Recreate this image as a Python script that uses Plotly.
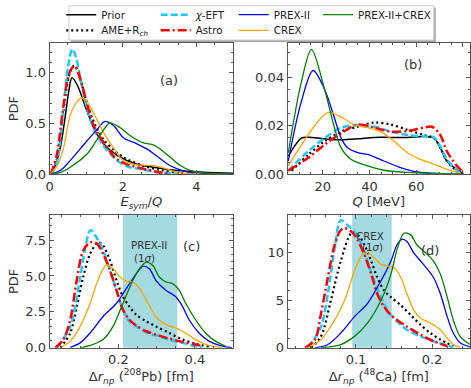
import plotly.graph_objects as go

W, H = 471, 388

# ---------------- series metadata ----------------
series_names = ["Prior", "AME+R<sub><i>ch</i></sub>", "<i>χ</i>-EFT", "Astro",
                "PREX-II", "CREX", "PREX-II+CREX"]
series_colors = ["black", "black", "#1ec8ff", "red", "blue", "orange", "green"]
series_dash = ["solid", "2px,3px", "7px,3px", "9px,3px,2px,3px", "solid", "solid", "solid"]
series_width = [1.5, 2.2, 2.5, 2.5, 1.3, 1.3, 1.3]

# ---------------- panel (a): E_sym/Q ----------------
a_prior_x = [0, 0.11, 0.29, 0.43, 0.52, 0.61, 0.75, 1.02, 1.25, 1.47, 1.83, 2.38, 2.83, 3.28, 3.74, 4.2, 5.0]
a_prior_y = [0.0, 0.05, 0.26, 0.58, 0.81, 0.95, 0.88, 0.62, 0.42, 0.30, 0.19, 0.10, 0.07, 0.045, 0.03, 0.02, 0.012]
a_ame_x = [0.05, 0.2, 0.35, 0.5, 0.6, 0.67, 0.8, 1.0, 1.25, 1.5, 1.75, 2.0, 2.5, 3.0, 3.5, 4.0]
a_ame_y = [0.0, 0.15, 0.55, 0.92, 1.04, 1.07, 0.98, 0.72, 0.48, 0.33, 0.24, 0.17, 0.09, 0.045, 0.015, 0.005]
a_eft_x = [0.05, 0.2, 0.35, 0.5, 0.62, 0.72, 0.85, 1.0, 1.2, 1.47, 1.83, 2.1, 2.5, 3.0, 3.5]
a_eft_y = [0.0, 0.12, 0.55, 1.05, 1.23, 1.15, 0.92, 0.68, 0.45, 0.28, 0.14, 0.08, 0.05, 0.02, 0.005]
a_astro_x = [0.03, 0.2, 0.35, 0.5, 0.6, 0.7, 0.85, 1.0, 1.2, 1.5, 1.8, 2.1, 2.5, 3.0, 3.3]
a_astro_y = [0.0, 0.2, 0.6, 0.95, 1.04, 1.06, 0.92, 0.72, 0.48, 0.30, 0.16, 0.10, 0.06, 0.02, 0.005]
a_prex_x = [0, 0.3, 0.56, 1.02, 1.29, 1.51, 1.74, 2.01, 2.38, 2.65, 2.92, 3.28, 3.56, 3.83, 4.2, 5.0]
a_prex_y = [0.0, 0.04, 0.135, 0.33, 0.44, 0.52, 0.48, 0.36, 0.30, 0.25, 0.18, 0.087, 0.045, 0.02, 0.01, 0.005]
a_crex_x = [0, 0.2, 0.38, 0.56, 0.74, 0.87, 1.0, 1.29, 1.47, 1.74, 2.01, 2.38, 2.83, 3.1, 3.46, 3.83, 4.2]
a_crex_y = [0.0, 0.08, 0.26, 0.58, 0.71, 0.75, 0.72, 0.54, 0.41, 0.26, 0.135, 0.093, 0.087, 0.064, 0.022, 0.006, 0.0]
a_both_x = [0, 0.3, 0.56, 1.02, 1.29, 1.56, 1.65, 1.92, 2.2, 2.56, 2.83, 3.01, 3.28, 3.56, 3.83, 4.2, 5.0]
a_both_y = [0.0, 0.02, 0.07, 0.2, 0.34, 0.48, 0.505, 0.46, 0.38, 0.31, 0.29, 0.25, 0.17, 0.087, 0.04, 0.015, 0.005]

# ---------------- panel (b): Q [MeV] ----------------
b_prior_x = [5.3, 10.9, 13.8, 20.8, 27.9, 35.0, 42.0, 49.1, 56.2, 63.2, 67.5, 70.3, 73.1, 77.4, 80.2]
b_prior_y = [0.0075, 0.0149, 0.0153, 0.0146, 0.0142, 0.0146, 0.0152, 0.0152, 0.0152, 0.0156, 0.0150, 0.0109, 0.0055, 0.0020, 0.0003]
b_ame_x = [6.7, 13.8, 20.8, 27.9, 35.0, 42.0, 49.1, 56.2, 63.2, 67.5, 70.3, 73.1, 77.4, 80.2]
b_ame_y = [0.0015, 0.0080, 0.0136, 0.0176, 0.0196, 0.0213, 0.0205, 0.0183, 0.0162, 0.0149, 0.0109, 0.0055, 0.0015, 0.0002]
b_eft_x = [5.3, 13.8, 20.8, 27.9, 35.0, 42.0, 49.1, 56.2, 63.2, 67.5, 70.3, 73.1, 77.4, 79.5]
b_eft_y = [0.0015, 0.0095, 0.0149, 0.0192, 0.0203, 0.0196, 0.0176, 0.0162, 0.0156, 0.0152, 0.0115, 0.0062, 0.0017, 0.0003]
b_astro_x = [5.3, 13.8, 20.8, 27.9, 35.0, 42.0, 49.1, 56.2, 63.2, 66.7, 70.3, 73.1, 77.4, 80.2]
b_astro_y = [0.0015, 0.0068, 0.0122, 0.0169, 0.0205, 0.0192, 0.0176, 0.0178, 0.0192, 0.0196, 0.0162, 0.0095, 0.0035, 0.0008]
b_prex_x = [5.3, 10.9, 15.9, 20.8, 25.1, 27.9, 30.7, 35.0, 39.2, 46.2, 53.3, 60.4, 70.3, 78.8]
b_prex_y = [0.0055, 0.030, 0.0427, 0.035, 0.023, 0.0149, 0.0109, 0.0089, 0.0082, 0.0055, 0.0028, 0.0010, 0.0003, 0.0001]
b_crex_x = [5.3, 10.9, 16.6, 22.2, 27.9, 33.6, 39.2, 44.8, 50.5, 56.2, 61.8, 67.5, 73.1, 78.8]
b_crex_y = [0.0035, 0.012, 0.020, 0.0254, 0.0236, 0.0203, 0.0192, 0.0176, 0.0136, 0.0089, 0.0062, 0.0042, 0.0021, 0.0006]
b_both_x = [5.3, 10.9, 15.2, 20.8, 25.1, 27.9, 32.1, 39.2, 46.2, 56.2, 70.3, 78.8]
b_both_y = [0.0089, 0.038, 0.0514, 0.035, 0.019, 0.0109, 0.0062, 0.0035, 0.0017, 0.0008, 0.0003, 0.0001]

# ---------------- panel (c): Delta r_np (208Pb) ----------------
c_ame_x = [0.048, 0.074, 0.091, 0.108, 0.126, 0.147, 0.160, 0.178, 0.195, 0.212, 0.229, 0.247, 0.273, 0.298, 0.333, 0.368, 0.402, 0.437]
c_ame_y = [0.0, 1.03, 2.87, 4.93, 6.54, 7.34, 7.11, 6.08, 4.70, 3.55, 2.87, 2.29, 1.83, 1.49, 1.03, 0.57, 0.28, 0.07]
c_eft_x = [0.039, 0.074, 0.100, 0.117, 0.127, 0.143, 0.160, 0.178, 0.195, 0.212, 0.229, 0.247, 0.273, 0.298, 0.333, 0.368, 0.402, 0.420]
c_eft_y = [0.0, 1.49, 4.90, 7.45, 8.19, 7.68, 6.77, 5.39, 4.01, 2.64, 1.83, 1.49, 1.08, 0.85, 0.57, 0.34, 0.11, 0.04]
c_astro_x = [0.035, 0.056, 0.074, 0.091, 0.108, 0.126, 0.143, 0.160, 0.178, 0.195, 0.212, 0.229, 0.247, 0.273, 0.298, 0.333, 0.368, 0.402, 0.420]
c_astro_y = [0.0, 0.57, 1.95, 4.70, 6.77, 7.34, 7.27, 6.54, 5.39, 4.01, 2.64, 1.95, 1.54, 1.15, 0.92, 0.64, 0.41, 0.23, 0.11]
c_prex_x = [0.074, 0.100, 0.126, 0.160, 0.195, 0.221, 0.247, 0.264, 0.281, 0.298, 0.324, 0.350, 0.368, 0.385, 0.411, 0.437, 0.471, 0.497]
c_prex_y = [0.02, 0.34, 1.03, 2.18, 3.10, 4.13, 5.16, 5.67, 5.50, 4.70, 4.01, 3.55, 2.87, 1.95, 1.03, 0.46, 0.11, 0.0]
c_crex_x = [0.048, 0.074, 0.100, 0.126, 0.143, 0.160, 0.169, 0.186, 0.204, 0.221, 0.238, 0.255, 0.273, 0.298, 0.324, 0.350, 0.376, 0.402, 0.437, 0.471]
c_crex_y = [0.0, 0.46, 1.49, 3.10, 4.47, 5.50, 5.78, 5.50, 4.93, 4.63, 4.59, 4.13, 3.33, 2.18, 1.61, 1.38, 1.03, 0.57, 0.16, 0.02]
c_both_x = [0.100, 0.126, 0.160, 0.186, 0.212, 0.238, 0.255, 0.273, 0.290, 0.307, 0.324, 0.342, 0.359, 0.376, 0.402, 0.428, 0.454, 0.480]
c_both_y = [0.0, 0.16, 0.57, 1.49, 3.10, 4.70, 5.50, 5.96, 5.73, 4.93, 4.59, 4.47, 4.01, 3.10, 1.95, 1.03, 0.46, 0.11]

# ---------------- panel (d): Delta r_np (48Ca) ----------------
d_ame_x = [0.041, 0.054, 0.067, 0.080, 0.094, 0.102, 0.111, 0.120, 0.128, 0.137, 0.146, 0.159, 0.172, 0.185, 0.198, 0.211, 0.228]
d_ame_y = [0.0, 1.20, 5.00, 9.14, 12.07, 11.9, 10.86, 9.14, 7.41, 6.03, 5.34, 4.48, 3.45, 2.41, 1.55, 0.86, 0.17]
d_eft_x = [0.037, 0.054, 0.063, 0.072, 0.080, 0.089, 0.098, 0.107, 0.115, 0.124, 0.133, 0.141, 0.150, 0.159, 0.167, 0.185, 0.202, 0.220, 0.228]
d_eft_y = [0.0, 2.24, 5.69, 10.5, 13.45, 12.9, 12.24, 11.0, 9.14, 7.07, 5.34, 3.97, 3.10, 2.41, 1.90, 1.20, 0.69, 0.24, 0.05]
d_astro_x = [0.033, 0.046, 0.054, 0.063, 0.072, 0.080, 0.085, 0.094, 0.102, 0.111, 0.120, 0.128, 0.137, 0.146, 0.154, 0.167, 0.185, 0.202, 0.220]
d_astro_y = [0.0, 0.86, 3.62, 7.41, 10.86, 12.41, 12.6, 12.24, 11.38, 9.83, 7.76, 5.69, 4.31, 3.45, 2.93, 2.24, 1.38, 0.69, 0.17]
d_prex_x = [0.046, 0.063, 0.080, 0.098, 0.115, 0.133, 0.146, 0.154, 0.161, 0.167, 0.176, 0.185, 0.194, 0.202, 0.211, 0.220, 0.228, 0.237, 0.250]
d_prex_y = [0.0, 0.34, 1.55, 3.28, 4.66, 7.07, 9.14, 10.86, 11.45, 11.2, 10.0, 9.14, 8.28, 7.41, 5.69, 3.28, 1.55, 0.52, 0.1]
d_crex_x = [0.037, 0.054, 0.072, 0.085, 0.098, 0.107, 0.113, 0.124, 0.133, 0.141, 0.150, 0.159, 0.167, 0.176, 0.185, 0.194, 0.202, 0.211, 0.220, 0.228, 0.237]
d_crex_y = [0.0, 0.86, 2.93, 5.00, 8.10, 9.66, 10.1, 9.48, 8.79, 8.62, 8.45, 7.41, 5.69, 3.97, 3.10, 2.76, 2.41, 1.90, 1.03, 0.34, 0.05]
d_both_x = [0.054, 0.080, 0.098, 0.115, 0.133, 0.146, 0.154, 0.163, 0.172, 0.180, 0.194, 0.202, 0.211, 0.220, 0.228, 0.237, 0.250]
d_both_y = [0.0, 0.34, 1.20, 2.59, 5.00, 7.76, 10.34, 12.07, 11.9, 10.86, 9.83, 9.14, 7.76, 5.34, 2.93, 1.20, 0.34]

# experimental 1-sigma bands
prex_band = [0.212, 0.354]
crex_band = [0.095, 0.147]

panels = {
    1: [(0, a_prior_x, a_prior_y), (1, a_ame_x, a_ame_y), (2, a_eft_x, a_eft_y), (3, a_astro_x, a_astro_y),
        (4, a_prex_x, a_prex_y), (5, a_crex_x, a_crex_y), (6, a_both_x, a_both_y)],
    2: [(0, b_prior_x, b_prior_y), (1, b_ame_x, b_ame_y), (2, b_eft_x, b_eft_y), (3, b_astro_x, b_astro_y),
        (4, b_prex_x, b_prex_y), (5, b_crex_x, b_crex_y), (6, b_both_x, b_both_y)],
    3: [(1, c_ame_x, c_ame_y), (2, c_eft_x, c_eft_y), (3, c_astro_x, c_astro_y),
        (4, c_prex_x, c_prex_y), (5, c_crex_x, c_crex_y), (6, c_both_x, c_both_y)],
    4: [(1, d_ame_x, d_ame_y), (2, d_eft_x, d_eft_y), (3, d_astro_x, d_astro_y),
        (4, d_prex_x, d_prex_y), (5, d_crex_x, d_crex_y), (6, d_both_x, d_both_y)],
}

fig = go.Figure()

legend_ids = ["legend"] + ["legend%d" % (k + 1) for k in range(1, 7)]
shown = set()
for p, lst in panels.items():
    xa = "x" if p == 1 else "x%d" % p
    ya = "y" if p == 1 else "y%d" % p
    for k, xs, ys in lst:
        fig.add_trace(go.Scatter(
            x=xs, y=ys, mode="lines", xaxis=xa, yaxis=ya,
            name=series_names[k], legend=legend_ids[k],
            showlegend=(k not in shown),
            line=dict(color=series_colors[k], width=series_width[k], dash=series_dash[k],
                      shape="spline", smoothing=0.9),
            hoverinfo="skip"))
        shown.add(k)

# ---------------- layout ----------------
FONT = "DejaVu Sans"
TXT = "#333333"
AX = "#555555"
xdom_l = [46 / W, 231 / W]
xdom_r = [286 / W, 470 / W]
ydom_t = [1 - 177.5 / H, 1 - 43 / H]
ydom_b = [1 - 355 / H, 1 - 219 / H]


def axis(domain, rng, dtick, minor, fmt, anchor, title="", standoff=None, tick0=0):
    d = dict(domain=domain, range=rng, dtick=dtick, tick0=tick0, tickformat=fmt, anchor=anchor,
             showgrid=False, zeroline=False, showline=True, mirror="ticks", linecolor=AX, linewidth=1,
             ticks="inside", ticklen=4, tickwidth=1, tickcolor=AX,
             tickfont=dict(family=FONT, size=13, color=TXT),
             minor=dict(ticks="inside", ticklen=2, tickwidth=1, tickcolor=AX, dtick=minor, showgrid=False),
             title=dict(text=title, font=dict(family=FONT, size=13, color=TXT)))
    if standoff is not None:
        d["title"]["standoff"] = standoff
    return d


fig.update_layout(
    width=W, height=H, margin=dict(l=0, r=0, t=0, b=0),
    paper_bgcolor="white", plot_bgcolor="white",
    font=dict(family=FONT, color=TXT),
    xaxis=axis(xdom_l, [0, 5], 2, 0.5, "d", "y", "<i>E</i><sub><i>sym</i></sub>/<i>Q</i>", 2),
    yaxis=axis(ydom_t, [0, 1.29], 0.5, 0.1, ".1f", "x", "PDF", 3),
    xaxis2=axis(xdom_r, [5, 83], 20, 5, "d", "y2", "<i>Q</i> [MeV]", 2),
    yaxis2=axis(ydom_t, [0, 0.054], 0.02, 0.005, ".2f", "x2"),
    xaxis3=axis(xdom_l, [0.02, 0.5], 0.2, 0.05, ".1f", "y3", "Δ<i>r</i><sub><i>np</i></sub> (<sup>208</sup>Pb) [fm]", 2),
    yaxis3=axis(ydom_b, [0, 9.25], 2.5, 0.5, ".1f", "x3", "PDF", 3),
    xaxis4=axis(xdom_r, [0.01, 0.25], 0.1, 0.02, ".1f", "y4", "Δ<i>r</i><sub><i>np</i></sub> (<sup>48</sup>Ca) [fm]", 2),
    yaxis4=axis(ydom_b, [0, 14], 5, 1, "d", "x4"),
    showlegend=True,
)

# legends: one per entry, arranged in a 4-column grid like the original
col_text_x = [97.7, 193, 271.7, 356.7]
row_y = [14, 30]
grid = [(0, 0), (0, 1), (1, 0), (1, 1), (2, 0), (2, 1), (3, 0)]
for k, (c, r) in enumerate(grid):
    fig.update_layout({legend_ids[k]: dict(
        x=(col_text_x[c] - 40) / W, xanchor="left",
        y=1 - row_y[r] / H, yanchor="middle",
        bgcolor="rgba(0,0,0,0)", borderwidth=0,
        font=dict(family=FONT, size=10.3, color="#222"),
        itemwidth=30, tracegroupgap=0)})

# legend frame (shadow + box)
fig.add_shape(type="rect", xref="paper", yref="paper",
              x0=67.5 / W, x1=435.5 / W, y0=1 - 42 / H, y1=1 - 7 / H,
              line=dict(width=0), fillcolor="rgba(0,0,0,0.35)", layer="below")
fig.add_shape(type="rect", xref="paper", yref="paper",
              x0=65.5 / W, x1=433.5 / W, y0=1 - 40 / H, y1=1 - 5 / H,
              line=dict(width=1, color="#cccccc"), fillcolor="white", layer="below")

# experimental bands
fig.add_shape(type="rect", xref="x3", yref="y3 domain", x0=prex_band[0], x1=prex_band[1], y0=0, y1=1,
              line=dict(width=0), fillcolor="#a4dae0", layer="below")
fig.add_shape(type="rect", xref="x4", yref="y4 domain", x0=crex_band[0], x1=crex_band[1], y0=0, y1=1,
              line=dict(width=0), fillcolor="#a4dae0", layer="below")

ann = dict(showarrow=False, font=dict(family=FONT, size=13, color=TXT))
fig.add_annotation(text="(a)", xref="x domain", yref="y domain", x=0.649, y=0.784, **ann)
fig.add_annotation(text="(b)", xref="x2 domain", yref="y2 domain", x=0.75, y=0.911, **ann)
fig.add_annotation(text="(c)", xref="x3 domain", yref="y3 domain", x=0.832, y=0.833, **ann)
fig.add_annotation(text="(d)", xref="x4 domain", yref="y4 domain", x=0.842, y=0.80, **ann)

small = dict(showarrow=False, font=dict(family=FONT, size=10.3, color=TXT))
fig.add_annotation(text="PREX-II", xref="x3", yref="y3 domain", x=0.280, y=0.835, **small)
fig.add_annotation(text="(1<i>σ</i>)", xref="x3", yref="y3 domain", x=0.268, y=0.733, **small)
fig.add_annotation(text="CREX", xref="x4", yref="y4 domain", x=0.119, y=0.905, **small)
fig.add_annotation(text="(1<i>σ</i>)", xref="x4", yref="y4 domain", x=0.122, y=0.815, **small)

fig.write_html("out.html")
